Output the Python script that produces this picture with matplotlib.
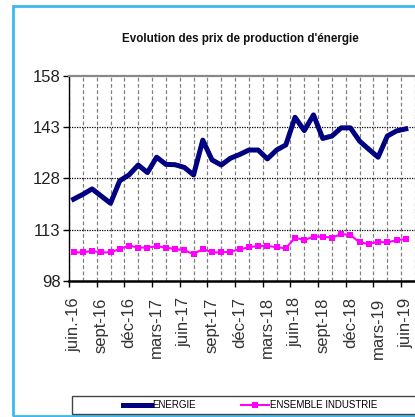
import numpy as np
import matplotlib
matplotlib.use("Agg")
import matplotlib.pyplot as plt
from matplotlib import font_manager
from matplotlib.patches import Rectangle

# ---------------- data ----------------
tick_labels = ['juin.-16', 'sept-16', 'déc-16', 'mars-17', 'juin-17', 'sept-17',
               'déc-17', 'mars-18', 'juin-18', 'sept-18', 'déc-18', 'mars-19', 'juin-19']
energie = [121.9, 123.3, 124.9, 122.8, 120.7, 127.3, 129.0, 131.9, 129.7, 134.2,
           132.1, 132.0, 131.2, 129.0, 139.2, 133.4, 131.9, 133.9, 135.0, 136.3,
           136.3, 133.7, 136.3, 137.8, 145.9, 142.0, 146.6, 139.7, 140.4, 142.8,
           142.8, 138.9, 136.5, 134.2, 140.4, 141.9, 142.5]
industrie = [106.3, 106.3, 106.7, 106.3, 106.3, 107.3, 108.3, 107.7, 107.7, 108.1,
             107.7, 107.3, 106.9, 105.8, 107.3, 106.3, 106.3, 106.5, 107.2, 107.8,
             108.2, 108.2, 107.8, 107.5, 110.6, 109.9, 110.9, 110.9, 110.6, 111.7,
             111.4, 109.2, 108.8, 109.4, 109.2, 109.9, 110.2]
y_ticks = [98, 113, 128, 143, 158]
series_names = ['ENERGIE', 'ENSEMBLE INDUSTRIE']
title = "Evolution des prix de production d'énergie"

# ---------------- fonts ----------------
avail = {f.name for f in font_manager.fontManager.ttflist}
narrow = 'Liberation Sans Narrow' if 'Liberation Sans Narrow' in avail else 'Liberation Sans'
regular = 'Liberation Sans' if 'Liberation Sans' in avail else 'DejaVu Sans'

W, H = 415, 417
fig = plt.figure(figsize=(W / 100, H / 100), dpi=100)
fig.patch.set_facecolor('white')

# outer cyan border
fig.add_artist(Rectangle((12.5 / W, 1.5 / H), 1.2, (H - 7.5) / H, transform=fig.transFigure,
                         fill=False, edgecolor='#3CB9F0', lw=2.0))

left_px, top_px, bottom_px = 69, 76, 280.7
ax = fig.add_axes([left_px / W, 1 - bottom_px / H, 1 - left_px / W, (bottom_px - top_px) / H])

months = np.arange(len(energie))
ax.plot(months, energie, color='#000080', lw=3.6, solid_joinstyle='round',
        label=series_names[0], zorder=4)
ax.plot(months, industrie, color='#FF00FF', lw=1.5, marker='s', markersize=4,
        markeredgewidth=0, label=series_names[1], zorder=4)

px_per_month = 9.43
ax.set_xlim(-0.5, -0.5 + (W - left_px) / px_per_month)
ax.set_ylim(y_ticks[0], y_ticks[-1])

# y axis
ax.set_yticks(y_ticks)
ax.set_yticklabels([str(v) for v in y_ticks], fontfamily=narrow, fontsize=12, color='#222222')
ax.tick_params(axis='y', length=4, width=1, pad=2, color='black')
for v in y_ticks[1:-1]:
    ax.axhline(v, color='black', lw=0.9, ls=(0, (1, 1)), zorder=2)

# x axis
xt = months[::3]
ax.set_xticks(xt)
ax.set_xticklabels(tick_labels, rotation=90, fontfamily=regular, fontsize=12,
                   va='top', ha='center', color='#333333')
ax.tick_params(axis='x', which='major', length=0, pad=12)
minor = np.arange(-0.5, months[-1] + 1.6, 1.5)
ax.set_xticks(minor, minor=True)
ax.tick_params(axis='x', which='minor', length=4, width=1, color='black')
for i, t in enumerate(ax.xaxis.get_minor_ticks()):
    if i % 2 == 1:
        t.tick1line.set_visible(False)
ax.grid(True, axis='x', which='minor', color='#808080', lw=0.9, ls=(0, (3, 2)), zorder=1)
ax.grid(False, axis='x', which='major')

for s in ['right']:
    ax.spines[s].set_visible(False)
ax.spines['top'].set_color('#888888')
ax.spines['top'].set_linewidth(1.6)
ax.spines['left'].set_linewidth(1.0)
ax.spines['bottom'].set_linewidth(1.8)

# title
fig.text(240 / W, 1 - 39 / H, title, ha='center', va='center',
         fontfamily=narrow, fontweight='bold', fontsize=8.4, color='#111111')

# legend with frame
fig.add_artist(Rectangle((72 / W, 1 - 414 / H), 1.2, 18 / H, transform=fig.transFigure,
                         fill=False, edgecolor='#444444', lw=1.0))
handles, labels = ax.get_legend_handles_labels()
leg = fig.legend(handles, labels, loc='center left', bbox_to_anchor=(123 / W, 1 - 405 / H),
                 ncol=2, frameon=False, borderpad=0, borderaxespad=0,
                 handlelength=2.9, handletextpad=0.1, columnspacing=4.6,
                 prop={'family': narrow, 'size': 7})

fig.savefig('out.png', dpi=100, facecolor='white')
